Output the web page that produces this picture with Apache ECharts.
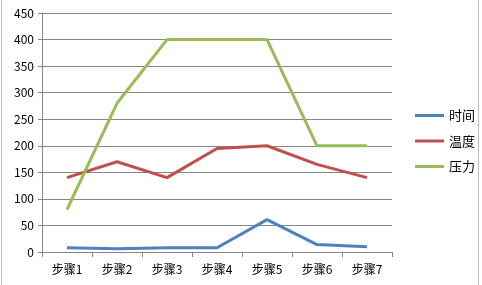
<!DOCTYPE html>
<html><head><meta charset="utf-8">
<script src="https://cdn.jsdelivr.net/npm/echarts@6/dist/echarts.min.js"></script>
<style>html,body{margin:0;padding:0;background:#fff}#c{width:482px;height:285px}</style>
</head><body><div id="c"></div>
<script>
var categories = ['步骤1','步骤2','步骤3','步骤4','步骤5','步骤6','步骤7'];
var seriesNames = ['时间','温度','压力'];
var timeVals = [8, 6, 8, 8, 61, 14, 10];
var tempVals = [140, 170, 140, 195, 200, 165, 140];
var pressVals = [80, 280, 400, 400, 400, 200, 200];
var colors = ['#4F81BD','#C0504D','#9BBB59'];
var chart = echarts.init(document.getElementById('c'));
var font = '"Noto Sans CJK SC", "Liberation Sans", sans-serif';
function s(name, data, c){ return {name:name, type:'line', data:data, symbol:'none', lineStyle:{width:3, color:c}, itemStyle:{color:c}}; }
chart.setOption({
  animation:false,
  color: colors,
  graphic:[{type:'rect', shape:{x:1.5,y:-2,width:477,height:290}, style:{fill:'none', stroke:'#bfbfbf', lineWidth:1}, silent:true}],
  grid:{left:42, right:90, top:13, bottom:33},
  legend:{orient:'vertical', left:410, top:104, itemWidth:29, itemHeight:3, itemGap:12.5,
    icon:'rect',
    textStyle:{fontFamily:font, fontSize:13, color:'#000'}, data:seriesNames},
  xAxis:{type:'category', data:categories, boundaryGap:true,
    axisLine:{lineStyle:{color:'#868686', width:1}},
    axisTick:{show:true, length:5, lineStyle:{color:'#868686'}},
    axisLabel:{fontFamily:font, fontSize:12, color:'#000', margin:11}},
  yAxis:{type:'value', min:0, max:450, interval:50,
    axisLine:{show:true, lineStyle:{color:'#868686'}},
    axisTick:{show:true, length:4, lineStyle:{color:'#868686'}},
    splitLine:{lineStyle:{color:'#868686'}},
    axisLabel:{fontFamily:font, fontSize:12, color:'#000', margin:8}},
  series:[s(seriesNames[0], timeVals, colors[0]), s(seriesNames[1], tempVals, colors[1]), s(seriesNames[2], pressVals, colors[2])]
});
</script></body></html>
